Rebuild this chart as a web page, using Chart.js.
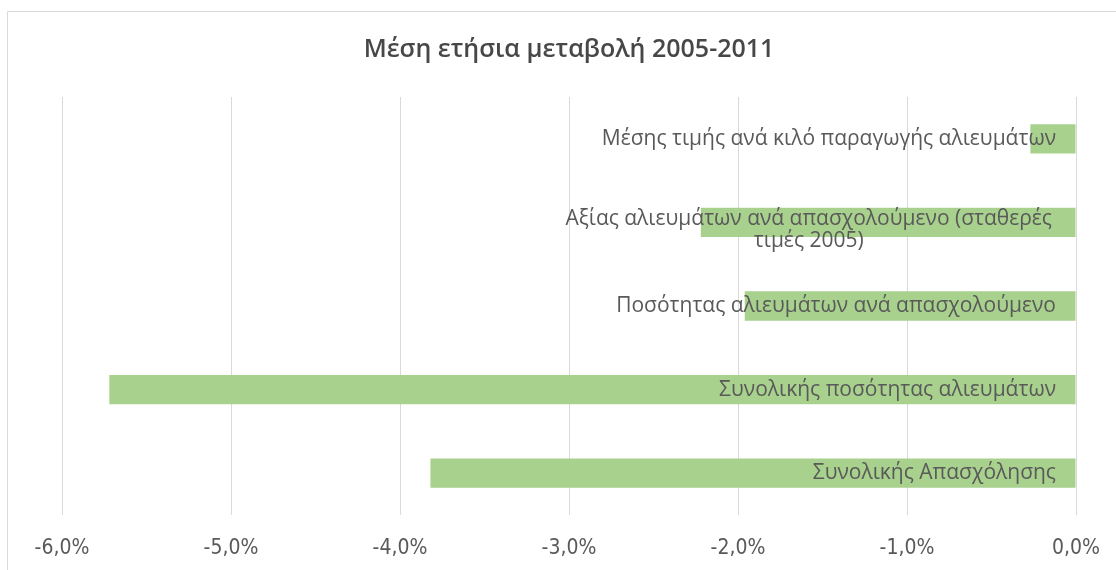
<!DOCTYPE html>
<html>
<head>
<meta charset="utf-8">
<script src="https://cdn.jsdelivr.net/npm/chart.js@4.4.1/dist/chart.umd.min.js"></script>
<style>
  html, body { margin: 0; padding: 0; background: #fff; }
  #wrap { width: 1116px; height: 570px; }
</style>
</head>
<body>
<div id="wrap"><canvas id="myChart" width="1116" height="570"></canvas></div>
<script>
// categories, top to bottom as in the picture
const categories = [
    'Μέσης τιμής ανά κιλό παραγωγής αλιευμάτων',
    ['Αξίας αλιευμάτων ανά απασχολούμενο (σταθερές', 'τιμές 2005)'],
    'Ποσότητας αλιευμάτων ανά απασχολούμενο',
    'Συνολικής ποσότητας αλιευμάτων',
    'Συνολικής Απασχόλησης'
];
// average yearly change, %
const changeValues = [-0.27, -2.22, -1.96, -5.72, -3.82];
const tickValues = [-6, -5, -4, -3, -2, -1, 0];

const textGrey = '#595959';
const narrowFont = '"Liberation Sans Narrow", "DejaVu Sans Condensed", sans-serif';

// thin frame like the excel chart area
const framePlugin = {
    id: 'frame',
    beforeDraw(chart) {
        const ctx = chart.ctx;
        ctx.save();
        ctx.strokeStyle = '#d9d9d9';
        ctx.lineWidth = 1;
        ctx.beginPath();
        ctx.moveTo(7.5, 600);
        ctx.lineTo(7.5, 11.5);
        ctx.lineTo(1200, 11.5);
        ctx.stroke();
        ctx.restore();
    }
};

// category names drawn over the bars, right side next to zero
const barLabelPlugin = {
    id: 'barLabels',
    afterDatasetsDraw(chart) {
        const ctx = chart.ctx;
        const xScale = chart.scales.x;
        const meta = chart.getDatasetMeta(0);
        const right = xScale.getPixelForValue(0) - 20;
        ctx.save();
        ctx.fillStyle = textGrey;
        ctx.font = '21px "Open Sans", sans-serif';
        ctx.textBaseline = 'middle';
        meta.data.forEach((bar, i) => {
            const lab = categories[i];
            if (Array.isArray(lab)) {
                const w = Math.max(...lab.map(l => ctx.measureText(l).width));
                ctx.textAlign = 'center';
                const cx = right - 4 - w / 2;
                lab.forEach((line, j) => ctx.fillText(line, cx, bar.y - 3 + j * 22));
            } else {
                ctx.textAlign = 'right';
                ctx.fillText(lab, right, bar.y);
            }
        });
        ctx.restore();
    }
};

new Chart(document.getElementById('myChart'), {
    type: 'bar',
    data: {
        labels: categories,
        datasets: [{
            data: changeValues,
            backgroundColor: '#a9d18e',
            categoryPercentage: 0.7,
            barPercentage: 0.5
        }]
    },
    options: {
        indexAxis: 'y',
        responsive: false,
        animation: false,
        devicePixelRatio: 1,
        layout: { padding: { left: 62, right: 40, top: 0, bottom: 0 } },
        plugins: {
            legend: { display: false },
            tooltip: { enabled: false },
            title: {
                display: true,
                text: 'Μέση ετήσια μεταβολή 2005-2011',
                color: '#474747',
                font: { family: '"Open Sans", sans-serif', size: 25, weight: '600' },
                padding: { top: 35, bottom: 32 }
            }
        },
        scales: {
            x: {
                min: tickValues[0],
                max: tickValues[tickValues.length - 1],
                afterBuildTicks: (axis) => { axis.ticks = tickValues.map(v => ({ value: v })); },
                afterFit: (axis) => {
                    axis.height = 55;
                    // outer padding already set in layout
                    axis.paddingLeft = 0;
                    axis.paddingRight = 0;
                },
                grid: { color: '#d9d9d9', drawTicks: false },
                border: { display: false },
                ticks: {
                    padding: 21,
                    color: textGrey,
                    font: { family: narrowFont, size: 21 },
                    callback: (v) => v.toFixed(1).replace('.', ',') + '%'
                }
            },
            y: { display: false }
        }
    },
    plugins: [framePlugin, barLabelPlugin]
});
</script>
</body>
</html>
